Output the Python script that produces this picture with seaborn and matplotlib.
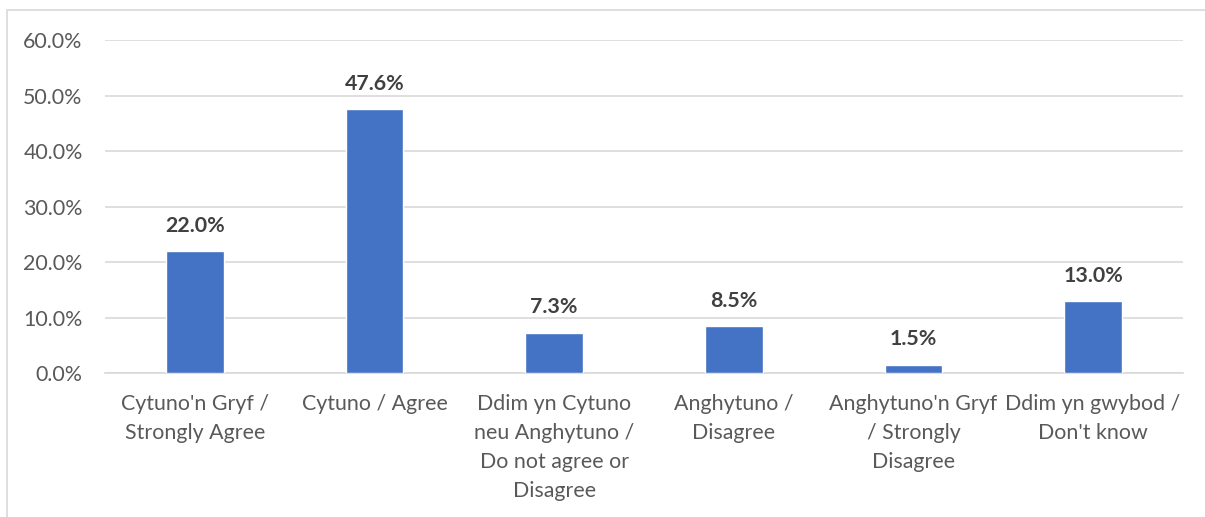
import matplotlib
matplotlib.use('Agg')
import matplotlib.pyplot as plt
import seaborn as sns
import pandas as pd
from matplotlib.patches import Rectangle
from matplotlib.ticker import FuncFormatter

categories = ["Cytuno'n Gryf /\nStrongly Agree",
              "Cytuno / Agree",
              "Ddim yn Cytuno\nneu Anghytuno /\nDo not agree or\nDisagree",
              "Anghytuno /\nDisagree",
              "Anghytuno'n Gryf\n/ Strongly\nDisagree",
              "Ddim yn gwybod /\nDon't know"]
values = [22.0, 47.6, 7.3, 8.5, 1.5, 13.0]
yticks = [0, 10, 20, 30, 40, 50, 60]

sns.set_style('white')
plt.rcParams['font.family'] = ['Lato', 'DejaVu Sans']

df = pd.DataFrame({'category': categories, 'value': values})

fig = plt.figure(figsize=(12.05, 5.17), dpi=100)
ax = fig.add_axes([0.0871, 0.2785, 0.8946, 0.6441])

# chart frame (cut off at right/bottom like the screenshot)
fig.patches.append(Rectangle((7 / 1205, -0.1), 1.2, (517 - 10) / 517 + 0.1,
                             transform=fig.transFigure, fill=False,
                             edgecolor='#d9d9d9', linewidth=1.2))

sns.barplot(data=df, x='category', y='value', color='#4472C4', width=0.32,
            saturation=1, ax=ax, zorder=3)

ax.set_ylim(0, 60)
ax.set_yticks(yticks)
ax.yaxis.set_major_formatter(FuncFormatter(lambda v, p: f'{v:.1f}%'))
ax.grid(axis='y', color='#d9d9d9', linewidth=1.2, zorder=0)
for s in ['top', 'right', 'left']:
    ax.spines[s].set_visible(False)
ax.spines['bottom'].set_color('#d9d9d9')
ax.spines['bottom'].set_linewidth(1.2)
ax.tick_params(axis='both', length=0, labelsize=15.4, colors='#595959')
ax.tick_params(axis='y', pad=16)
ax.tick_params(axis='x', pad=15)
for lbl in ax.get_xticklabels():
    lbl.set_linespacing(1.57)
ax.set_xlabel('')
ax.set_ylabel('')

ax.bar_label(ax.containers[0], labels=[f'{v:.1f}%' for v in values],
             padding=11, fontsize=15.4, fontweight='bold', color='#404040')

fig.savefig('out.png', dpi=100)
